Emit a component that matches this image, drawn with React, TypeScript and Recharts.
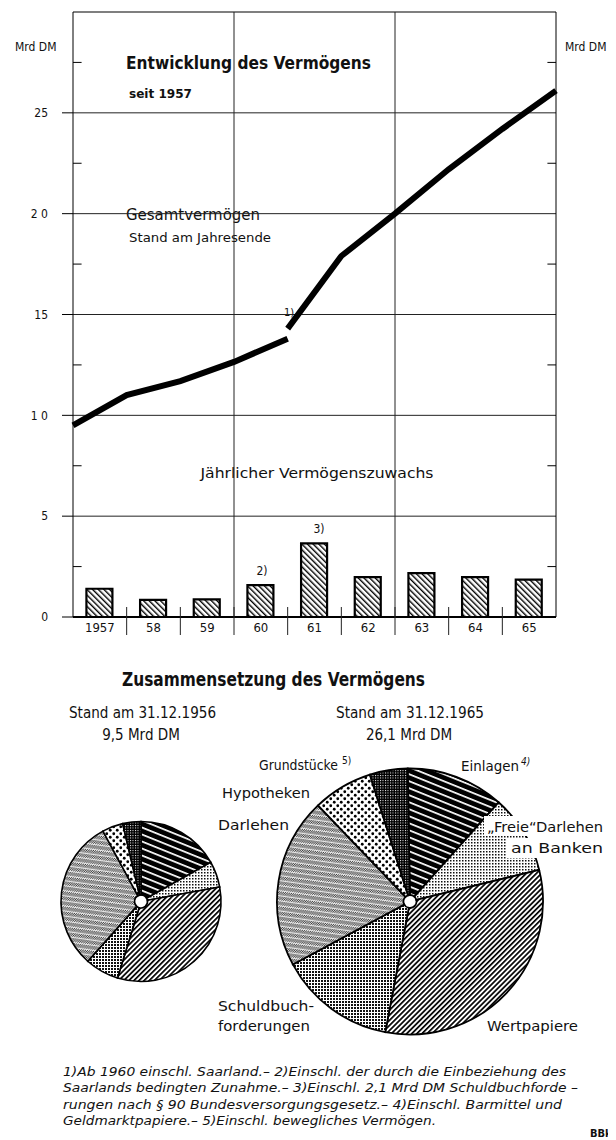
import React from "react";
import { ComposedChart, Bar, Line, XAxis, YAxis, ReferenceLine, PieChart, Pie, Cell } from "recharts";

const FONT = "'DejaVu Sans Condensed', 'DejaVu Sans', sans-serif";

// Jährlicher Vermögenszuwachs (Mrd DM)
const years = ["1957", "58", "59", "60", "61", "62", "63", "64", "65"];
const zuwachs = [1.4, 0.85, 0.87, 1.58, 3.65, 1.98, 2.18, 1.98, 1.85];
// Gesamtvermögen, Stand am Jahresende 1956-1960 (ohne Saarland) / 1960-1965 (mit Saarland)
const gesamtAlt = [9.5, 11.0, 11.7, 12.65, 13.8];
const gesamtNeu = [14.3, 17.9, 20.0, 22.2, 24.2, 26.1];

const yTicks = [0, 5, 10, 15, 20, 25];
const yMinor = [2.5, 7.5, 12.5, 17.5, 22.5, 27.5];
const leftTickText: Record<number, string> = { 0: "0", 5: "5", 10: "1 0", 15: "15", 20: "2 0", 25: "25" };
const xTicks = [0.5, 1, 1.5, 2, 2.5, 3, 3.5, 4, 4.5, 5, 5.5, 6, 6.5, 7, 7.5, 8, 8.5];

// Zusammensetzung (Mrd DM), im Uhrzeigersinn ab 12 Uhr
const segmente = ["Einlagen", "Freie Darlehen an Banken", "Wertpapiere", "Schuldbuchforderungen", "Darlehen", "Hypotheken", "Grundstücke"];
const werte1956 = [1.6, 0.5, 3.1, 0.65, 2.9, 0.4, 0.35];
const werte1965 = [3.1, 2.5, 8.3, 3.7, 5.4, 1.9, 1.2];
const muster = ["einlagen", "freie", "wertpapiere", "schuldbuch", "darlehen", "hypotheken", "grundstuecke"];

const fussnoten = [
  "1)Ab 1960 einschl. Saarland.– 2)Einschl. der durch die Einbeziehung des",
  "Saarlands bedingten Zunahme.– 3)Einschl. 2,1 Mrd DM Schuldbuchforde –",
  "rungen nach § 90 Bundesversorgungsgesetz.– 4)Einschl. Barmittel und",
  "Geldmarktpapiere.– 5)Einschl. bewegliches Vermögen.",
];

const chartData: any[] = [];
for (let i = 0; i <= 18; i++) {
  const row: any = { x: i / 2 };
  if (i % 2 === 1) {
    row.zuwachs = zuwachs[(i - 1) / 2];
  } else {
    const k = i / 2;
    if (k <= 4) row.alt = gesamtAlt[k];
    if (k >= 4) row.neu = gesamtNeu[k - 4];
  }
  chartData.push(row);
}

const pie1956 = segmente.map((name, i) => ({ name, wert: werte1956[i] }));
const pie1965 = segmente.map((name, i) => ({ name, wert: werte1965[i] }));

function JahrTick(props: any) {
  const { x, y, payload } = props;
  const v = payload.value;
  if (Number.isInteger(v)) {
    return <line x1={x} x2={x} y1={y - 10} y2={y + 18} stroke="#222" strokeWidth={1} />;
  }
  return (
    <text x={x} y={y + 15} textAnchor="middle" fontSize={13} fontFamily={FONT} fill="#111">
      {years[Math.floor(v)]}
    </text>
  );
}

const tickStyle = { fontSize: 12, fill: "#111", fontFamily: FONT };

function Entwicklung() {
  return (
    <ComposedChart
      width={616}
      height={650}
      data={chartData}
      margin={{ top: 12, right: 12, left: 13, bottom: 8 }}
    >
      <defs>
        <pattern id="hatchBar" width="4" height="4" patternUnits="userSpaceOnUse" patternTransform="rotate(-45)">
          <rect width="4" height="4" fill="#fff" />
          <rect width="1.4" height="4" fill="#000" />
        </pattern>
      </defs>
      <XAxis
        type="number"
        dataKey="x"
        domain={[0, 9]}
        ticks={xTicks}
        interval={0}
        tickLine={false}
        tickSize={0}
        tickMargin={0}
        height={25}
        axisLine={{ stroke: "#000", strokeWidth: 2.2 }}
        tick={<JahrTick />}
      />
      <YAxis
        yAxisId="l"
        orientation="left"
        width={60}
        domain={[0, 30]}
        ticks={yTicks}
        tickSize={11}
        tickMargin={14}
        axisLine={{ stroke: "#000" }}
        tickLine={{ stroke: "#000" }}
        tick={tickStyle}
        tickFormatter={(v: number) => leftTickText[v] ?? String(v)}
      />
      <YAxis
        yAxisId="r"
        orientation="right"
        width={48}
        domain={[0, 30]}
        ticks={yTicks}
        tickSize={12}
        tickMargin={14}
        axisLine={{ stroke: "#000" }}
        tickLine={{ stroke: "#000" }}
        tick={tickStyle}
      />

      {[5, 10, 15, 20, 25].map((v) => (
        <ReferenceLine key={v} yAxisId="l" y={v} stroke="#222" strokeWidth={1} />
      ))}
      {yMinor.map((v) => (
        <ReferenceLine key={"ml" + v} yAxisId="l" segment={[{ x: 0, y: v }, { x: 0.16, y: v }]} stroke="#000" strokeWidth={1} />
      ))}
      {yMinor.map((v) => (
        <ReferenceLine key={"mr" + v} yAxisId="l" segment={[{ x: 8.84, y: v }, { x: 9, y: v }]} stroke="#000" strokeWidth={1} />
      ))}
      <ReferenceLine yAxisId="l" y={30} stroke="#000" strokeWidth={1.2} />
      <ReferenceLine yAxisId="l" x={3} stroke="#222" strokeWidth={1} />
      <ReferenceLine yAxisId="l" x={6} stroke="#222" strokeWidth={1} />

      <Bar yAxisId="l" dataKey="zuwachs" barSize={26} fill="url(#hatchBar)" stroke="#000" strokeWidth={2.2} isAnimationActive={false} />
      <Line yAxisId="l" dataKey="alt" stroke="#000" strokeWidth={6} dot={false} connectNulls isAnimationActive={false} />
      <Line yAxisId="l" dataKey="neu" stroke="#000" strokeWidth={6} dot={false} connectNulls isAnimationActive={false} />

      <text x={15} y={51} fontSize={12} fontFamily={FONT} fill="#111">Mrd DM</text>
      <text x={565} y={51} fontSize={12} fontFamily={FONT} fill="#111">Mrd DM</text>
      <text x={126} y={69} fontSize={18} fontWeight="bold" fontFamily={FONT} fill="#111" textLength={245} lengthAdjust="spacingAndGlyphs">Entwicklung des Vermögens</text>
      <text x={129} y={98} fontSize={13} fontWeight="bold" fontFamily={FONT} fill="#111" textLength={63} lengthAdjust="spacingAndGlyphs">seit 1957</text>
      <rect x={119} y={204} width={148} height={20} fill="#fff" />
      <text x={126} y={220} fontSize={15} fontFamily={FONT} fill="#111" textLength={134} lengthAdjust="spacingAndGlyphs">Gesamtvermögen</text>
      <text x={129} y={242} fontSize={12} fontFamily={FONT} fill="#111" textLength={142} lengthAdjust="spacingAndGlyphs">Stand am Jahresende</text>
      <rect x={282} y={304} width={15} height={14} fill="#fff" />
      <text x={284} y={316} fontSize={11} fontFamily={FONT} fill="#111">1)</text>
      <text x={317} y={478} fontSize={13.5} textAnchor="middle" fontFamily={FONT} fill="#111" textLength={233} lengthAdjust="spacingAndGlyphs">Jährlicher Vermögenszuwachs</text>
      <text x={262} y={575} fontSize={12} textAnchor="middle" fontFamily={FONT} fill="#111">2)</text>
      <text x={319} y={533} fontSize={12} textAnchor="middle" fontFamily={FONT} fill="#111">3)</text>
    </ComposedChart>
  );
}

const PY = 650;
const t = (y: number) => y - PY;

function Muster() {
  return (
    <defs>
      <pattern id="p-einlagen" width="7" height="6.5" patternUnits="userSpaceOnUse" patternTransform="rotate(22)">
        <rect width="7" height="6.5" fill="#000" />
        <rect y="0" width="7" height="1.7" fill="#fff" />
      </pattern>
      <pattern id="p-freie" width="3" height="3" patternUnits="userSpaceOnUse">
        <rect width="3" height="3" fill="#fff" />
        <rect width="1.5" height="1.5" fill="#111" />
      </pattern>
      <pattern id="p-wertpapiere" width="3.6" height="10" patternUnits="userSpaceOnUse" patternTransform="rotate(45)">
        <rect width="3.6" height="10" fill="#fff" />
        <rect width="1.7" height="10" fill="#000" />
      </pattern>
      <pattern id="p-schuldbuch" width="3" height="3" patternUnits="userSpaceOnUse">
        <rect width="3" height="3" fill="#fff" />
        <rect width="2" height="2" fill="#111" />
      </pattern>
      <pattern id="p-darlehen" width="2" height="5" patternUnits="userSpaceOnUse" patternTransform="rotate(8)">
        <rect width="2" height="5" fill="#e8e8e8" />
        <rect x="0" y="0" width="1" height="1" fill="#333" />
        <rect x="1" y="1" width="1" height="1" fill="#333" />
        <rect x="0" y="2" width="1" height="1" fill="#333" />
        <rect x="1" y="3" width="1" height="1" fill="#555" />
      </pattern>
      <pattern id="p-hypotheken" width="7" height="7" patternUnits="userSpaceOnUse">
        <rect width="7" height="7" fill="#fff" />
        <circle cx="1.75" cy="1.75" r="1.4" fill="#000" />
        <circle cx="5.25" cy="5.25" r="1.4" fill="#000" />
      </pattern>
      <pattern id="p-grundstuecke" width="2.5" height="2.5" patternUnits="userSpaceOnUse">
        <rect width="2.5" height="2.5" fill="#000" />
        <rect width="1" height="1" fill="#fff" />
      </pattern>
    </defs>
  );
}

function Zusammensetzung() {
  return (
    <PieChart width={616} height={1140 - PY} margin={{ top: 0, right: 0, bottom: 0, left: 0 }}>
      <Muster />
      <Pie
        data={pie1956}
        dataKey="wert"
        nameKey="name"
        cx={141}
        cy={t(901.5)}
        outerRadius={80}
        innerRadius={6.5}
        startAngle={90}
        endAngle={-270}
        stroke="#000"
        strokeWidth={1.6}
        label={false}
        labelLine={false}
        isAnimationActive={false}
      >
        {pie1956.map((d, i) => (
          <Cell key={d.name} fill={`url(#p-${muster[i]})`} />
        ))}
      </Pie>
      <Pie
        data={pie1965}
        dataKey="wert"
        nameKey="name"
        cx={410}
        cy={t(901.5)}
        outerRadius={133}
        innerRadius={6.5}
        startAngle={91}
        endAngle={-269}
        stroke="#000"
        strokeWidth={1.8}
        label={false}
        labelLine={false}
        isAnimationActive={false}
      >
        {pie1965.map((d, i) => (
          <Cell key={d.name} fill={`url(#p-${muster[i]})`} />
        ))}
      </Pie>
    </PieChart>
  );
}

// Beschriftung über den Kreisen
function Beschriftung() {
  return (
    <svg width={616} height={1140 - PY} style={{ position: "absolute", left: 0, top: PY, pointerEvents: "none" }}>
      <text x={122} y={t(686)} fontSize={19} fontWeight="bold" fontFamily={FONT} fill="#111" textLength={303} lengthAdjust="spacingAndGlyphs">Zusammensetzung des Vermögens</text>
      <text x={69} y={t(718)} fontSize={15} fontFamily={FONT} fill="#111" textLength={147} lengthAdjust="spacingAndGlyphs">Stand am 31.12.1956</text>
      <text x={141} y={t(740)} fontSize={15} textAnchor="middle" fontFamily={FONT} fill="#111">9,5 Mrd DM</text>
      <text x={336} y={t(718)} fontSize={15} fontFamily={FONT} fill="#111" textLength={148} lengthAdjust="spacingAndGlyphs">Stand am 31.12.1965</text>
      <text x={409} y={t(740)} fontSize={15} textAnchor="middle" fontFamily={FONT} fill="#111">26,1 Mrd DM</text>

      <text x={259} y={t(770)} fontSize={14} fontFamily={FONT} fill="#111" textLength={79} lengthAdjust="spacingAndGlyphs">Grundstücke</text>
      <text x={342} y={t(764)} fontSize={10} fontFamily={FONT} fill="#111">5)</text>
      <text x={461} y={t(771)} fontSize={14} fontFamily={FONT} fill="#111" textLength={58} lengthAdjust="spacingAndGlyphs">Einlagen</text>
      <text x={521} y={t(765)} fontSize={10} fontStyle="italic" fontFamily={FONT} fill="#111">4)</text>
      <text x={222} y={t(798)} fontSize={14} fontFamily={FONT} fill="#111" textLength={88} lengthAdjust="spacingAndGlyphs">Hypotheken</text>
      <text x={218} y={t(830)} fontSize={14} fontFamily={FONT} fill="#111" textLength={71} lengthAdjust="spacingAndGlyphs">Darlehen</text>
      <rect x={484} y={t(816)} width={124} height={20} fill="#fff" />
      <text x={487} y={t(832)} fontSize={14} fontFamily={FONT} fill="#111" textLength={116} lengthAdjust="spacingAndGlyphs">„Freie“Darlehen</text>
      <rect x={507} y={t(838)} width={101} height={20} fill="#fff" />
      <text x={511} y={t(853)} fontSize={14} fontFamily={FONT} fill="#111" textLength={92} lengthAdjust="spacingAndGlyphs">an Banken</text>
      <text x={218} y={t(1011)} fontSize={14} fontFamily={FONT} fill="#111" textLength={96} lengthAdjust="spacingAndGlyphs">Schuldbuch-</text>
      <text x={218} y={t(1031)} fontSize={14} fontFamily={FONT} fill="#111" textLength={92} lengthAdjust="spacingAndGlyphs">forderungen</text>
      <text x={487} y={t(1031)} fontSize={14} fontFamily={FONT} fill="#111" textLength={91} lengthAdjust="spacingAndGlyphs">Wertpapiere</text>

      {fussnoten.map((zeile, i) => (
        <text
          key={i}
          x={63}
          y={t(1076 + i * 16.4)}
          fontSize={13}
          fontStyle="italic"
          fontFamily={FONT}
          fill="#111"
          textLength={[503, 515, 499, 373][i]}
          lengthAdjust="spacingAndGlyphs"
        >
          {zeile}
        </text>
      ))}
      <text x={590} y={t(1137)} fontSize={11} fontWeight="bold" fontFamily={FONT} fill="#111">BBk</text>
    </svg>
  );
}

export default function App() {
  return (
    <div style={{ position: "relative", width: 616, height: 1140, margin: "-8px 0 0 -8px", background: "#fff" }}>
      <div style={{ position: "absolute", left: 4, top: 0, width: 1, height: 1140, background: "#777" }} />
      <div style={{ position: "absolute", left: 0, top: 0 }}>
        <Entwicklung />
      </div>
      <div style={{ position: "absolute", left: 0, top: PY }}>
        <Zusammensetzung />
      </div>
      <Beschriftung />
    </div>
  );
}
